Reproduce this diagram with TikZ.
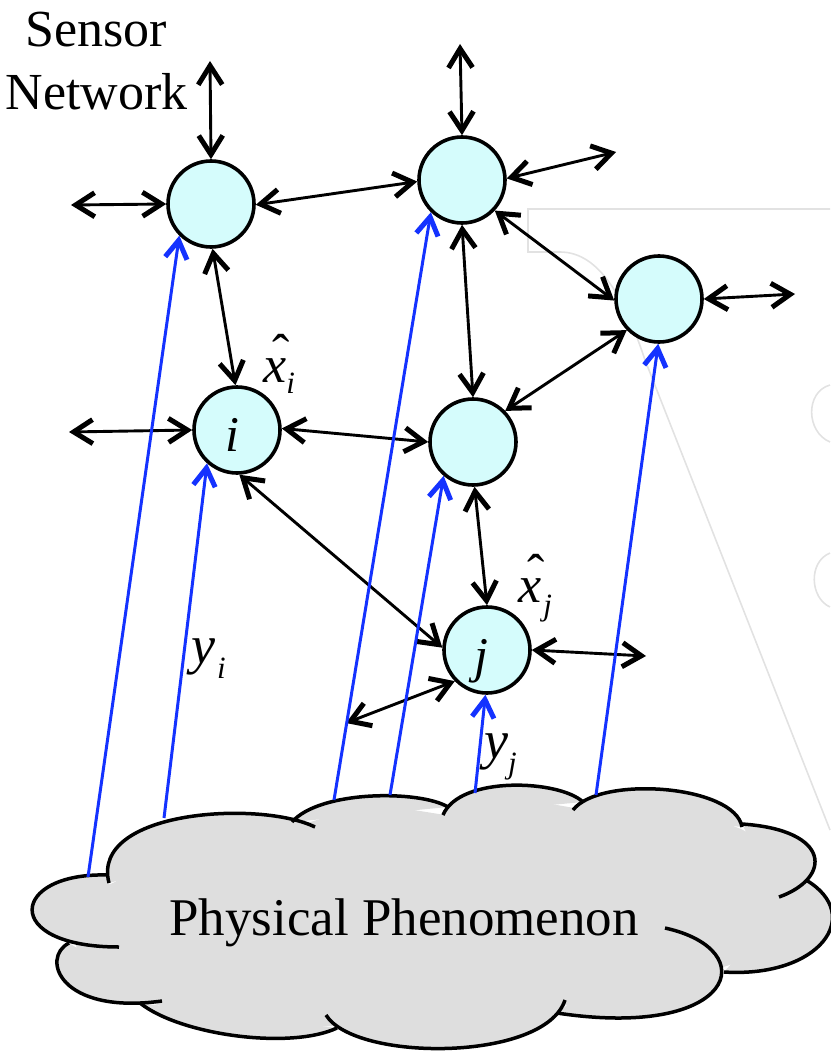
\documentclass[tikz,border=0pt]{standalone}
\usepackage{fontspec}
\setmainfont{Liberation Serif}
\usetikzlibrary{arrows.meta}
\definecolor{nodefill}{RGB}{213,252,252}
\definecolor{cloudfill}{RGB}{222,222,222}
\definecolor{sigblue}{RGB}{20,50,255}
\definecolor{wmgray}{RGB}{226,226,226}
\newcommand{\hatx}{\makebox[0pt][l]{\hspace{0.17em}\raisebox{0.22em}{\upshape ˆ}}x}
\begin{document}
\begin{tikzpicture}[x=1pt,y=-1pt,
  sensor/.style={circle,draw=black,fill=nodefill,line width=3.6pt,minimum size=86pt,inner sep=0pt},
  link/.style={black,line width=2.9pt,arrows={Straight Barb[length=19pt,width=24pt,line width=5pt]-Straight Barb[length=19pt,width=24pt,line width=5pt]}},
  obs/.style={sigblue,line width=3pt,arrows={-Straight Barb[length=18pt,width=22pt,line width=5pt]}},
  wm/.style={wmgray,line width=1.6pt},
  cloudline/.style={black,line width=3.5pt},
  lbl/.style={inner sep=0pt,anchor=base west}
]
\useasboundingbox (0,0) rectangle (830,1051);
% faint background marks
\draw[wm] (830,209) -- (528,209) -- (528,252) -- (560,252) .. controls (600,252) and (625,300) .. (645,360) -- (830,830);
\draw[wm] (830,385) .. controls (805,392) and (806,432) .. (830,442);
\draw[wm] (830,553) .. controls (808,562) and (810,598) .. (830,607);
% cloud
\def\lobes{108/875/10/872/0/947/119/947,
  69/943/40/958/60/1015/162/1001,
  140/1003/180/1035/290/1050/337/1028,
  326/1015/355/1062/545/1062/565/1000,
  665/928/765/950/735/1040/557/1013,
  724/972/820/978/865/915/806/880,
  779/897/832/878/832/830/742/824,
  742/827/735/785/600/775/573/810,
  583/802/560/780/460/775/443/815,
  448/807/420/790/320/790/292/822,
  315/827/260/800/90/810/109/883}
\fill[cloudfill] (50,910) -- (76,944) -- (80,978) -- (142,1000) -- (236,1030) -- (333,1026) -- (449,1036) -- (560,1006) -- (700,985) -- (720,968) -- (810,940) -- (800,882) -- (800,860) -- (741,829) -- (665,800) -- (580,809) -- (511,797) -- (445,815) -- (370,803) -- (298,826) -- (184,830) -- (115,882) -- cycle;
\foreach \sx/\sy/\ax/\ay/\bx/\by/\ex/\ey in \lobes {
  \fill[cloudfill] (\sx,\sy) .. controls (\ax,\ay) and (\bx,\by) .. (\ex,\ey) -- cycle;
}
\foreach \sx/\sy/\ax/\ay/\bx/\by/\ex/\ey in \lobes {
  \draw[cloudline] (\sx,\sy) .. controls (\ax,\ay) and (\bx,\by) .. (\ex,\ey);
}
\node[inner sep=0pt,anchor=base] (phen) at (404,935) {\fontsize{53}{60}\selectfont Physical Phenomenon};
% labels
\node[inner sep=0pt,anchor=base] (sensortxt) at (96,47) {\fontsize{52}{60}\selectfont Sensor};
\node[inner sep=0pt,anchor=base] (networktxt) at (96.5,110) {\fontsize{52}{60}\selectfont Network};
% sensor nodes
\node[sensor] (A) at (211,204) {};
\node[sensor] (B) at (462,180) {};
\node[sensor] (C) at (659,299) {};
\node[sensor] (I) at (237,430) {};
\node[sensor] (D) at (473,442) {};
\node[sensor] (J) at (487,650) {};
\node[lbl] (ilab) at (225,451) {\fontsize{50}{50}\selectfont\itshape i};
\node[lbl] (jlab) at (474,672) {\fontsize{50}{50}\selectfont\itshape j};
\node[lbl] (xhi) at (263,382) {\fontsize{52}{52}\selectfont\itshape\hatx\raisebox{-11pt}{\fontsize{31}{31}\selectfont i}};
\node[lbl] (xhj) at (518,602) {\fontsize{52}{52}\selectfont\itshape\hatx\raisebox{-13.5pt}{\fontsize{31}{31}\selectfont\kern2pt j}};
\node[lbl] (yi) at (191,663) {\fontsize{54}{54}\selectfont\itshape y\raisebox{-15pt}{\fontsize{31}{31}\selectfont\kern2pt i}};
\node[lbl] (yj) at (484,758) {\fontsize{54}{54}\selectfont\itshape y\raisebox{-15pt}{\fontsize{31}{31}\selectfont j}};
% free ends
\coordinate (aT) at (210,61);
\coordinate (aL) at (71,205);
\coordinate (bT) at (460,44);
\coordinate (bR) at (616,152);
\coordinate (cR) at (795,294);
\coordinate (iL) at (69,432);
\coordinate (jR) at (646,656);
\coordinate (jL) at (346,723);
\coordinate (sA) at (88,877);
\coordinate (sI) at (164,818);
\coordinate (sB) at (334,800);
\coordinate (sD) at (390,795);
\coordinate (sJ) at (475,793);
\coordinate (sC) at (596,795);
% network links
\draw[link] (aT) -- (A.90);
\draw[link] (aL) -- (A.180);
\draw[link] (A.-1) -- (B.182.5);
\draw[link] (A.-88) -- (I.92);
\draw[link] (bT) -- (B.90);
\draw[link] (B.2) -- (bR);
\draw[link] (B.-43) -- (C.182);
\draw[link] (B.-90) -- (D.90);
\draw[link] (C.0) -- (cR);
\draw[link] (C.224) -- (D.44);
\draw[link] (iL) -- (I.180);
\draw[link] (I.2.5) -- (D.180);
\draw[link] (I.-87) -- (J.177);
\draw[link] (D.-88) -- (J.90);
\draw[link] (J.0) -- (jR);
\draw[link] (J.224) -- (jL);
% observations
\draw[obs] (sA) -- (A.225);
\draw[obs] (sI) -- (I.228);
\draw[obs] (sB) -- (B.226);
\draw[obs] (sD) -- (D.229);
\draw[obs] (sJ) -- (J.268);
\draw[obs] (sC) -- (C.269);
\end{tikzpicture}
\end{document}
